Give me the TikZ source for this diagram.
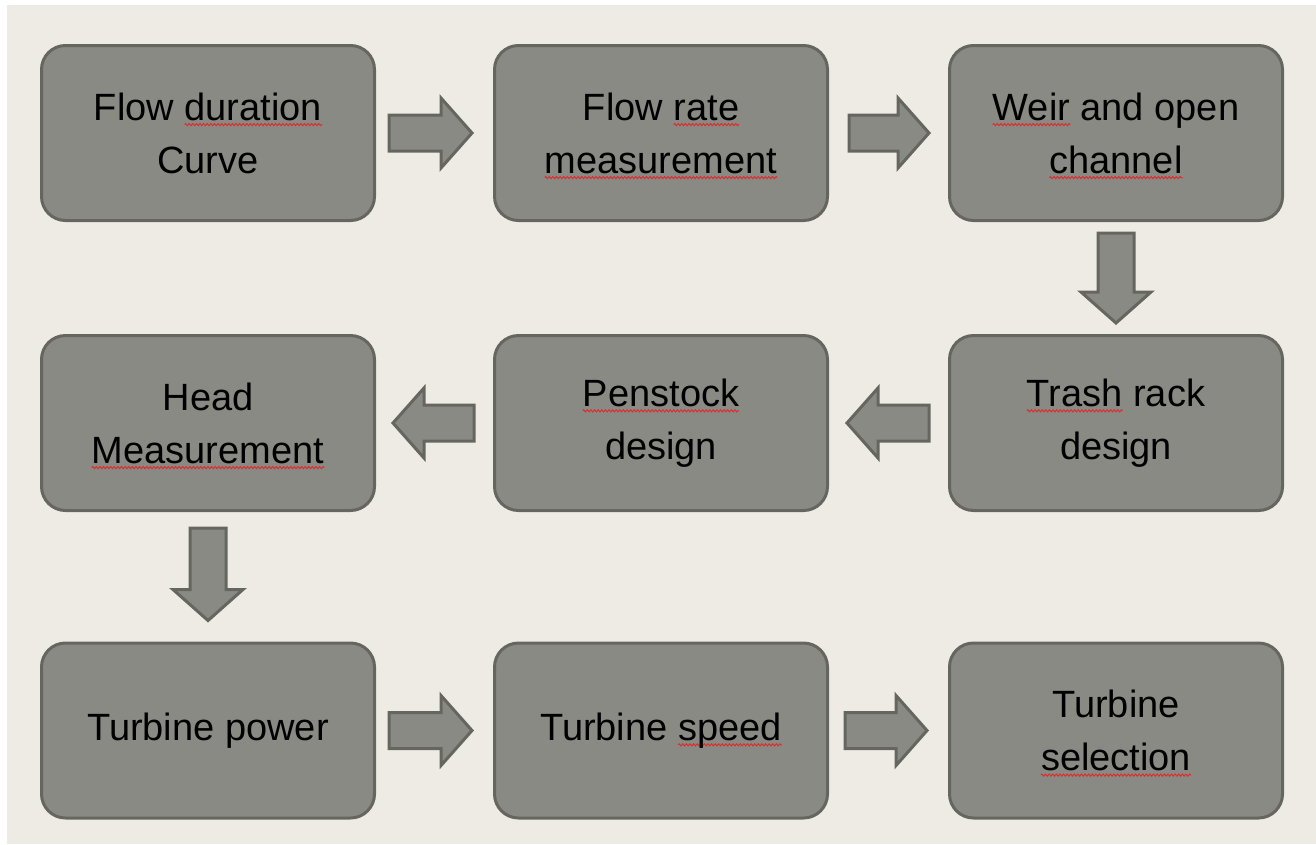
\documentclass[tikz,border=0pt]{standalone}
\usepackage{fontspec}
\setmainfont{Liberation Sans}
\usetikzlibrary{calc,decorations.pathmorphing}
\definecolor{bg}{RGB}{238,235,228}
\definecolor{boxfill}{RGB}{138,138,132}
\definecolor{boxline}{RGB}{102,102,96}
\definecolor{squig}{RGB}{225,40,40}
\newlength\sqw
\newcommand\sq[1]{\settowidth\sqw{#1}\tikz[overlay]\draw[squig, line width=0.9pt, sharp corners, fill=none, decorate, decoration={zigzag, segment length=3.6pt, amplitude=1.1pt}] (0pt,-4.5pt) -- (\sqw,-4.5pt);#1}
\newcommand\blockarrow[2]{%
  \coordinate (ba-a) at #1; \coordinate (ba-b) at #2;
  \coordinate (ba-h) at ($(ba-b)!31pt!(ba-a)$);
  \draw[barrow] ($(ba-a)!18pt!90:(ba-b)$) -- ($(ba-h)!18pt!90:(ba-b)$) -- ($(ba-h)!35pt!90:(ba-b)$) -- (ba-b) -- ($(ba-h)!35pt!-90:(ba-b)$) -- ($(ba-h)!18pt!-90:(ba-b)$) -- ($(ba-a)!18pt!-90:(ba-b)$) -- cycle;}
\begin{document}
\begin{tikzpicture}[x=1pt,y=-1pt,
  box/.style={draw=boxline, fill=boxfill, line width=3pt, rounded corners=24pt,
    minimum width=333pt, minimum height=175pt, align=center, inner sep=0pt,
    font=\fontsize{38}{53}\selectfont, text=black},
  barrow/.style={draw=boxline, fill=boxfill, line width=3pt, line join=miter, sharp corners}]
\path[use as bounding box, fill=white] (0,0) rectangle (1316,844);
\fill[bg] (7,5) rectangle (1316,844);
\node[box] (b1) at (208,133) {Flow \sq{duration}\\Curve};
\node[box] (b2) at (661,133) {Flow \sq{rate}\\\sq{measurement}};
\node[box] (b3) at (1116,133) {\sq{Weir} and open\\\sq{channel}};
\node[box] (b4) at (1116,423) {\sq{Trash} rack\\design};
\node[box] (b5) at (661,423) {\sq{Penstock}\\design};
\node[box] (b6) at (208,423) {Head\\\sq{Measurement}};
\node[box] (b7) at (208,730.5) {Turbine power};
\node[box] (b8) at (661,730.5) {Turbine \sq{speed}};
\node[box] (b9) at (1116,730.5) {Turbine\\\sq{selection}};
\blockarrow{([xshift=13pt]b1.east)}{([xshift=-21pt]b2.west)}
\blockarrow{([xshift=20pt]b2.east)}{([xshift=-19pt]b3.west)}
\blockarrow{([yshift=-11pt]b3.south)}{([yshift=11pt]b4.north)}
\blockarrow{([xshift=-19pt]b4.west)}{([xshift=18pt]b5.east)}
\blockarrow{([xshift=-19pt]b5.west)}{([xshift=17pt]b6.east)}
\blockarrow{([yshift=-16pt]b6.south)}{([yshift=21pt]b7.north)}
\blockarrow{([xshift=13pt]b7.east)}{([xshift=-21pt]b8.west)}
\blockarrow{([xshift=16pt]b8.east)}{([xshift=-21pt]b9.west)}
\end{tikzpicture}
\end{document}
